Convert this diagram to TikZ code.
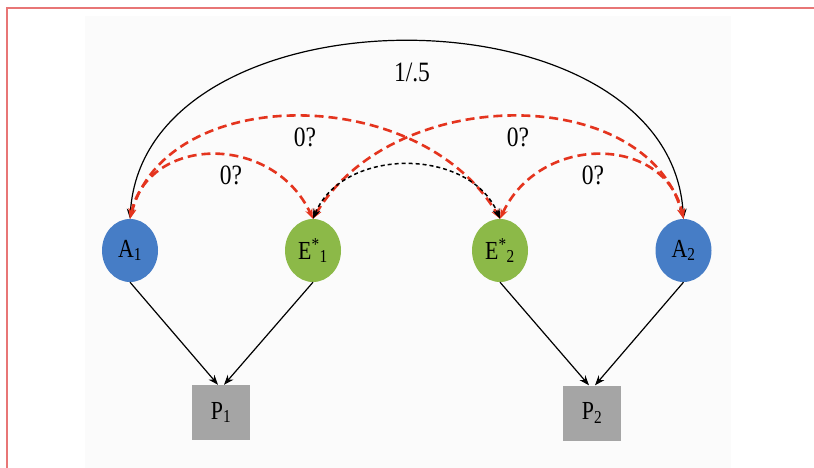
\documentclass[tikz,border=0pt]{standalone}
\usepackage{fontspec}
\setmainfont{Liberation Serif}[FakeStretch=0.84]
\usetikzlibrary{shapes.geometric,arrows.meta}
\definecolor{nodeblue}{RGB}{70,125,198}
\definecolor{nodegreen}{RGB}{140,185,72}
\definecolor{boxgrey}{RGB}{165,165,165}
\definecolor{dashred}{RGB}{228,52,30}
\definecolor{framered}{RGB}{232,118,118}
\definecolor{panelgrey}{RGB}{251,251,251}
\begin{document}
\begin{tikzpicture}[x=1pt,y=-1pt,
  latent/.style={ellipse,minimum width=56pt,minimum height=63pt,inner sep=0pt,
    font=\fontsize{26}{28}\selectfont},
  obsbox/.style={rectangle,fill=boxgrey,minimum width=58pt,minimum height=55pt,
    inner sep=0pt,font=\fontsize{26}{28}\selectfont},
  elabel/.style={font=\fontsize{28}{30}\selectfont,inner sep=0pt},
  onetip/.style={-{Stealth[length=10pt,width=7.5pt]}},
  twotips/.style={{Stealth[length=10pt,width=7.5pt]}-{Stealth[length=10pt,width=7.5pt]}},
  solidpath/.style={onetip,black,line width=1.2pt},
  bigarc/.style={twotips,black,line width=1.2pt},
  reddash/.style={twotips,dashred,line width=2.6pt,dash pattern=on 9pt off 5pt},
  blackdash/.style={twotips,black,line width=1.5pt,dash pattern=on 4pt off 3pt}]
\useasboundingbox (0,0) rectangle (814,468);
\fill[white] (0,0) rectangle (814,468);
\fill[panelgrey] (85,16) rectangle (731,468);
\draw[framered,line width=1.6pt] (7,468) -- (7,8) -- (814,8);

\node[latent,fill=nodeblue] (A1) at (130,250.5) {A\textsubscript{1}};
\node[latent,fill=nodegreen] (E1) at (313,250.5) {E\textsuperscript{*}\textsubscript{1}};
\node[latent,fill=nodegreen] (E2) at (500,250.5) {E\textsuperscript{*}\textsubscript{2}};
\node[latent,fill=nodeblue] (A2) at (683.5,250.5) {A\textsubscript{2}};
\node[obsbox] (P1) at (221,412.5) {P\textsubscript{1}};
\node[obsbox] (P2) at (592,413) {P\textsubscript{2}};

\draw[solidpath] (A1.south) -- ([xshift=-3pt]P1.north);
\draw[solidpath] (E1.south) -- ([xshift=3pt]P1.north);
\draw[solidpath] (E2.south) -- ([xshift=-3pt]P2.north);
\draw[solidpath] (A2.south) -- ([xshift=3pt]P2.north);

\draw[bigarc] (A1.north) .. controls +(14,-236) and +(-14,-236) .. (A2.north);
\node[elabel] (lbig) at (412,72) {1/.5};

\draw[reddash] (A1.north) .. controls +(18,-84) and +(-40,-86) .. (E1.north);
\draw[reddash] (A1.north) .. controls +(36,-136) and +(-80,-136) .. (E2.north);
\draw[reddash] (E1.north) .. controls +(80,-136) and +(-36,-136) .. (A2.north);
\draw[reddash] (E2.north) .. controls +(40,-86) and +(-18,-84) .. (A2.north);
\draw[blackdash] (E1.north) .. controls +(30,-72) and +(-30,-72) .. (E2.north);

\node[elabel] (l1) at (231,175) {0?};
\node[elabel] (l2) at (305,137) {0?};
\node[elabel] (l3) at (518,137) {0?};
\node[elabel] (l4) at (593,175) {0?};
\end{tikzpicture}
\end{document}
